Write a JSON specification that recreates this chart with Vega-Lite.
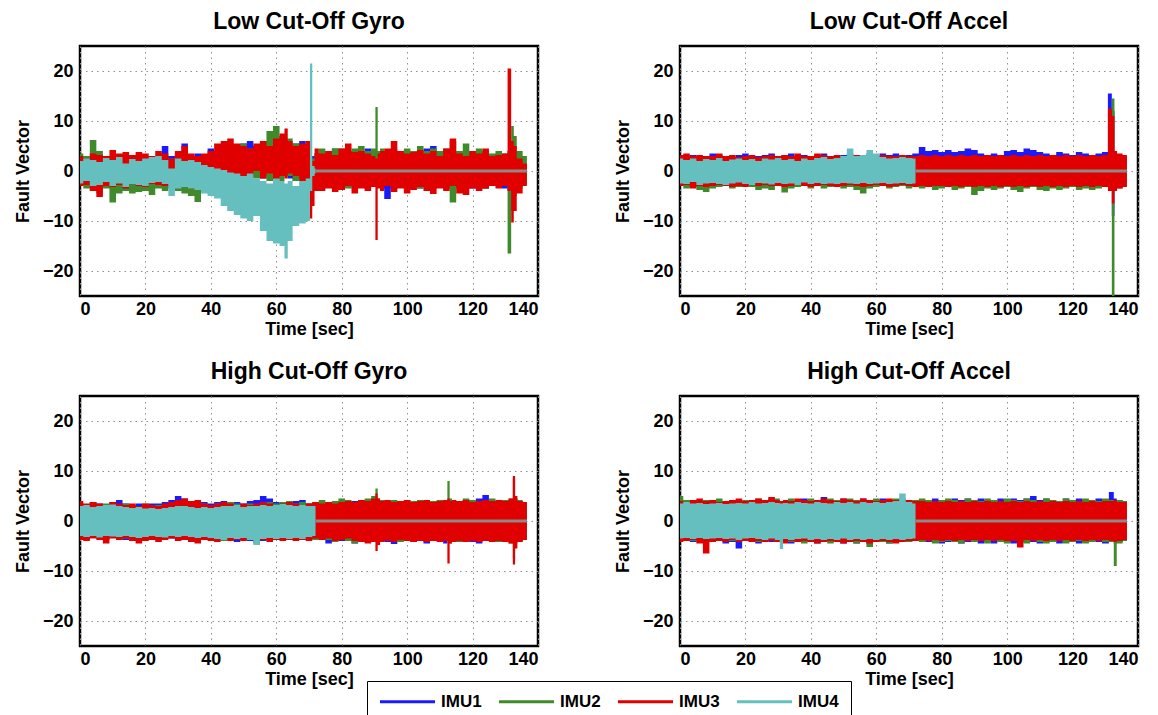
{
"$schema":"https://vega.github.io/schema/vega-lite/v6.json",
"background":"white",
"padding":{"left":13,"top":9,"right":5,"bottom":0},
"datasets":{
"g1":[
{"t":0,"a":2.5,"A":-2.8,"b":3.5,"B":-3.0,"c":3.0,"C":-3.0,"d":2.0,"D":-2.5},
{"t":2,"a":3.0,"A":-2.5,"b":3.0,"B":-3.5,"c":2.5,"C":-2.8,"d":2.5,"D":-2.0},
{"t":4,"a":2.8,"A":-3.0,"b":6.2,"B":-4.0,"c":3.5,"C":-4.0,"d":2.2,"D":-3.0},
{"t":6,"a":2.5,"A":-3.2,"b":4.0,"B":-4.5,"c":3.2,"C":-5.2,"d":1.8,"D":-2.8},
{"t":8,"a":3.0,"A":-3.0,"b":3.0,"B":-3.5,"c":3.0,"C":-3.0,"d":2.6,"D":-2.2},
{"t":10,"a":3.0,"A":-3.5,"b":3.0,"B":-6.3,"c":4.2,"C":-3.2,"d":2.2,"D":-3.0},
{"t":12,"a":2.5,"A":-3.0,"b":2.8,"B":-4.5,"c":3.5,"C":-2.8,"d":2.8,"D":-2.5},
{"t":14,"a":3.0,"A":-2.8,"b":3.0,"B":-4.0,"c":3.8,"C":-3.5,"d":1.5,"D":-3.2},
{"t":16,"a":2.8,"A":-3.2,"b":3.0,"B":-4.5,"c":3.2,"C":-2.5,"d":2.4,"D":-2.6},
{"t":18,"a":3.2,"A":-3.5,"b":2.5,"B":-4.2,"c":3.8,"C":-3.0,"d":2.0,"D":-2.8},
{"t":20,"a":3.0,"A":-3.0,"b":3.0,"B":-4.0,"c":3.5,"C":-3.2,"d":2.5,"D":-3.0},
{"t":22,"a":2.5,"A":-3.5,"b":2.5,"B":-4.8,"c":3.0,"C":-2.6,"d":2.8,"D":-2.4},
{"t":24,"a":3.0,"A":-3.0,"b":2.8,"B":-3.5,"c":4.0,"C":-2.8,"d":3.0,"D":-2.2},
{"t":26,"a":5.0,"A":-3.0,"b":3.0,"B":-4.0,"c":3.5,"C":-3.0,"d":2.2,"D":-2.6},
{"t":28,"a":3.0,"A":-3.5,"b":2.5,"B":-3.0,"c":2.5,"C":-2.0,"d":0.5,"D":-5.0},
{"t":30,"a":3.5,"A":-3.0,"b":3.0,"B":-4.0,"c":4.0,"C":-3.2,"d":2.5,"D":-3.5},
{"t":32,"a":5.5,"A":-3.5,"b":3.0,"B":-4.5,"c":5.0,"C":-2.5,"d":2.0,"D":-3.2},
{"t":34,"a":3.0,"A":-4.0,"b":2.5,"B":-5.0,"c":3.5,"C":-3.5,"d":2.2,"D":-3.5},
{"t":36,"a":3.5,"A":-3.0,"b":3.0,"B":-6.2,"c":3.0,"C":-2.8,"d":1.8,"D":-3.8},
{"t":38,"a":3.0,"A":-3.5,"b":3.0,"B":-4.0,"c":3.5,"C":-2.5,"d":1.2,"D":-4.5},
{"t":40,"a":4.5,"A":-4.0,"b":3.0,"B":-4.5,"c":4.0,"C":-3.0,"d":0.8,"D":-5.0},
{"t":42,"a":4.0,"A":-2.0,"b":3.5,"B":-4.0,"c":5.5,"C":-1.5,"d":0.5,"D":-5.5},
{"t":44,"a":4.5,"A":-1.5,"b":4.0,"B":-3.0,"c":6.0,"C":-1.0,"d":0.2,"D":-7.0},
{"t":46,"a":5.0,"A":-1.0,"b":4.0,"B":-2.0,"c":6.5,"C":-0.5,"d":-0.3,"D":-8.0},
{"t":48,"a":4.5,"A":-1.0,"b":5.0,"B":-1.5,"c":5.5,"C":-1.0,"d":-0.5,"D":-8.8},
{"t":50,"a":5.5,"A":-0.5,"b":5.5,"B":-1.0,"c":5.0,"C":-1.0,"d":-1.0,"D":-9.5},
{"t":52,"a":6.0,"A":-1.0,"b":4.5,"B":-1.0,"c":4.5,"C":-1.5,"d":-0.5,"D":-10.0},
{"t":54,"a":5.0,"A":-1.2,"b":4.0,"B":-1.5,"c":5.5,"C":0.0,"d":-1.5,"D":-9.0},
{"t":56,"a":5.0,"A":-1.5,"b":6.0,"B":-1.0,"c":6.0,"C":-1.5,"d":-2.0,"D":-12.0},
{"t":58,"a":5.5,"A":-1.0,"b":8.0,"B":-2.0,"c":5.0,"C":-0.5,"d":-2.5,"D":-14.0},
{"t":60,"a":5.0,"A":-1.5,"b":9.0,"B":-1.5,"c":6.5,"C":-2.0,"d":-1.5,"D":-14.5},
{"t":62,"a":6.0,"A":-1.0,"b":7.0,"B":-2.0,"c":7.5,"C":-1.0,"d":-2.0,"D":-15.0},
{"t":63,"a":6.0,"A":-1.0,"b":6.5,"B":-1.0,"c":8.5,"C":-1.5,"d":-2.5,"D":-17.5},
{"t":64,"a":5.0,"A":-1.5,"b":6.5,"B":-1.0,"c":6.0,"C":-0.5,"d":-2.0,"D":-14.0},
{"t":66,"a":5.5,"A":-2.0,"b":5.5,"B":-2.0,"c":5.0,"C":-1.0,"d":-3.0,"D":-11.0},
{"t":68,"a":6.0,"A":-1.5,"b":4.5,"B":-1.5,"c":5.5,"C":-2.0,"d":-2.0,"D":-10.5},
{"t":70,"a":5.0,"A":-2.0,"b":3.0,"B":-2.0,"c":6.0,"C":-2.5,"d":-1.5,"D":-10.0},
{"t":70.6,"a":3.0,"A":-3.0,"b":3.0,"B":-3.0,"c":3.0,"C":-9.5,"d":21.5,"D":-4.0},
{"t":71.4,"a":3.0,"A":-3.0,"b":2.5,"B":-2.0,"c":2.0,"C":-7.0,"d":1.0,"D":-1.0},
{"t":72,"a":3.5,"A":-3.0,"b":3.5,"B":-3.0,"c":4.5,"C":-4.0,"d":0.5,"D":-0.5},
{"t":74,"a":3.5,"A":-3.5,"b":4.5,"B":-3.0,"c":3.5,"C":-4.0},
{"t":76,"a":3.0,"A":-3.0,"b":4.0,"B":-2.5,"c":4.0,"C":-3.5},
{"t":78,"a":4.5,"A":-3.0,"b":4.5,"B":-3.5,"c":3.2,"C":-4.2},
{"t":80,"a":3.5,"A":-3.5,"b":4.5,"B":-2.5,"c":4.5,"C":-3.8},
{"t":82,"a":3.0,"A":-3.0,"b":4.0,"B":-3.5,"c":5.5,"C":-3.0},
{"t":84,"a":3.5,"A":-3.5,"b":4.5,"B":-3.0,"c":3.8,"C":-4.5},
{"t":86,"a":3.0,"A":-3.0,"b":5.0,"B":-3.0,"c":4.0,"C":-3.5},
{"t":88,"a":4.5,"A":-3.5,"b":4.0,"B":-3.0,"c":3.5,"C":-4.0},
{"t":90,"a":3.5,"A":-3.0,"b":4.5,"B":-2.5,"c":3.0,"C":-3.2},
{"t":90.6,"a":3.0,"A":-3.0,"b":12.8,"B":-2.5,"c":2.5,"C":-13.8},
{"t":91.4,"a":3.0,"A":-3.0,"b":4.0,"B":-3.0,"c":3.5,"C":-3.5},
{"t":92,"a":3.5,"A":-3.5,"b":4.5,"B":-3.0,"c":4.0,"C":-4.0},
{"t":94,"a":3.0,"A":-5.6,"b":4.0,"B":-3.0,"c":4.5,"C":-3.0},
{"t":96,"a":3.5,"A":-3.5,"b":4.5,"B":-3.5,"c":6.0,"C":-4.2},
{"t":98,"a":3.0,"A":-3.0,"b":4.0,"B":-3.0,"c":4.0,"C":-3.5},
{"t":100,"a":3.5,"A":-3.5,"b":4.5,"B":-3.5,"c":3.5,"C":-4.5},
{"t":102,"a":3.0,"A":-3.0,"b":4.0,"B":-3.0,"c":3.8,"C":-3.8},
{"t":104,"a":3.5,"A":-3.5,"b":5.0,"B":-3.5,"c":4.2,"C":-3.2},
{"t":106,"a":4.5,"A":-3.0,"b":4.0,"B":-3.0,"c":3.5,"C":-4.0},
{"t":108,"a":5.0,"A":-3.5,"b":4.5,"B":-3.5,"c":4.0,"C":-4.6},
{"t":110,"a":3.0,"A":-3.0,"b":4.0,"B":-3.0,"c":3.0,"C":-3.5},
{"t":112,"a":3.5,"A":-3.5,"b":4.5,"B":-3.5,"c":4.5,"C":-4.0},
{"t":114,"a":3.0,"A":-3.0,"b":6.0,"B":-6.3,"c":6.5,"C":-3.0},
{"t":116,"a":3.5,"A":-3.5,"b":4.0,"B":-3.0,"c":3.5,"C":-4.5},
{"t":118,"a":3.0,"A":-3.0,"b":5.5,"B":-3.5,"c":3.0,"C":-4.8},
{"t":120,"a":3.5,"A":-3.5,"b":4.0,"B":-3.0,"c":4.0,"C":-3.5},
{"t":122,"a":3.0,"A":-3.0,"b":4.5,"B":-3.0,"c":3.5,"C":-4.0},
{"t":124,"a":3.5,"A":-3.5,"b":4.0,"B":-3.5,"c":4.5,"C":-3.5},
{"t":126,"a":3.0,"A":-3.0,"b":3.5,"B":-3.0,"c":3.0,"C":-3.0},
{"t":128,"a":3.5,"A":-3.0,"b":4.0,"B":-3.0,"c":3.2,"C":-3.5},
{"t":130,"a":3.0,"A":-3.5,"b":3.5,"B":-3.0,"c":3.5,"C":-3.0},
{"t":131.4,"a":4.0,"A":-4.0,"b":4.0,"B":-16.5,"c":20.5,"C":-4.0},
{"t":132.2,"a":5.0,"A":-8.0,"b":9.0,"B":-4.0,"c":6.0,"C":-10.3},
{"t":133,"a":4.0,"A":-4.0,"b":7.0,"B":-5.0,"c":5.0,"C":-8.0},
{"t":134,"a":3.0,"A":-3.0,"b":4.0,"B":-3.5,"c":2.5,"C":-4.5},
{"t":136.6,"a":1.5,"A":-1.5,"b":3.0,"B":-2.5,"c":1.5,"C":-3.0}
],
"a1":[
{"t":0,"a":3.0,"A":-2.5,"b":2.5,"B":-3.0,"c":3.2,"C":-3.0,"d":2.5,"D":-2.5},
{"t":2,"a":3.0,"A":-2.5,"b":2.0,"B":-3.5,"c":3.5,"C":-2.8,"d":2.2,"D":-2.6},
{"t":4,"a":3.2,"A":-2.0,"b":2.5,"B":-3.2,"c":3.0,"C":-3.5,"d":2.5,"D":-2.2},
{"t":6,"a":3.0,"A":-2.5,"b":2.0,"B":-3.8,"c":3.2,"C":-3.0,"d":2.0,"D":-2.8},
{"t":8,"a":2.8,"A":-2.5,"b":2.5,"B":-4.2,"c":3.0,"C":-3.2,"d":2.4,"D":-2.5},
{"t":10,"a":3.5,"A":-2.5,"b":2.0,"B":-3.5,"c":3.0,"C":-3.0,"d":2.2,"D":-2.4},
{"t":12,"a":3.2,"A":-2.2,"b":2.5,"B":-3.2,"c":3.5,"C":-2.8,"d":2.6,"D":-2.6},
{"t":14,"a":3.0,"A":-2.5,"b":2.0,"B":-3.0,"c":3.0,"C":-3.0,"d":2.0,"D":-2.8},
{"t":16,"a":2.8,"A":-2.5,"b":2.5,"B":-3.5,"c":3.2,"C":-3.2,"d":2.3,"D":-2.5},
{"t":18,"a":3.2,"A":-2.5,"b":2.0,"B":-3.2,"c":2.8,"C":-3.0,"d":2.5,"D":-2.3},
{"t":20,"a":3.5,"A":-2.5,"b":2.5,"B":-3.0,"c":3.0,"C":-3.2,"d":2.2,"D":-2.6},
{"t":22,"a":3.0,"A":-2.5,"b":2.0,"B":-3.2,"c":3.2,"C":-2.8,"d":2.4,"D":-2.8},
{"t":24,"a":3.0,"A":-2.5,"b":2.0,"B":-3.8,"c":2.8,"C":-3.0,"d":2.0,"D":-2.4},
{"t":26,"a":3.2,"A":-2.0,"b":2.5,"B":-3.5,"c":3.0,"C":-2.8,"d":2.5,"D":-2.5},
{"t":28,"a":3.5,"A":-2.5,"b":2.5,"B":-3.8,"c":3.2,"C":-3.0,"d":2.3,"D":-2.7},
{"t":30,"a":3.0,"A":-2.5,"b":2.0,"B":-3.0,"c":3.0,"C":-3.0,"d":2.6,"D":-2.4},
{"t":32,"a":3.2,"A":-2.5,"b":2.5,"B":-4.3,"c":3.2,"C":-3.2,"d":2.2,"D":-2.6},
{"t":34,"a":3.5,"A":-2.2,"b":2.0,"B":-3.5,"c":3.0,"C":-3.0,"d":2.4,"D":-2.5},
{"t":36,"a":3.0,"A":-2.5,"b":2.5,"B":-3.2,"c":3.5,"C":-2.8,"d":2.0,"D":-2.8},
{"t":38,"a":3.2,"A":-2.5,"b":2.0,"B":-3.0,"c":3.0,"C":-3.0,"d":2.5,"D":-2.3},
{"t":40,"a":3.0,"A":-2.5,"b":2.5,"B":-3.5,"c":3.0,"C":-3.2,"d":2.2,"D":-2.6},
{"t":42,"a":3.2,"A":-2.0,"b":2.5,"B":-3.0,"c":3.5,"C":-3.0,"d":2.6,"D":-2.4},
{"t":44,"a":3.5,"A":-2.5,"b":2.0,"B":-3.5,"c":3.2,"C":-2.8,"d":2.8,"D":-2.6},
{"t":46,"a":3.0,"A":-2.5,"b":2.5,"B":-3.2,"c":3.0,"C":-3.0,"d":2.4,"D":-2.5},
{"t":48,"a":3.0,"A":-2.0,"b":2.5,"B":-3.0,"c":3.2,"C":-3.2,"d":2.6,"D":-2.6},
{"t":50,"a":3.2,"A":-2.5,"b":2.5,"B":-3.5,"c":3.0,"C":-3.0,"d":3.0,"D":-2.4},
{"t":52,"a":3.5,"A":-2.5,"b":2.5,"B":-3.2,"c":3.0,"C":-2.8,"d":4.5,"D":-2.5},
{"t":54,"a":3.0,"A":-2.5,"b":2.5,"B":-3.8,"c":3.2,"C":-3.0,"d":3.0,"D":-2.6},
{"t":56,"a":3.2,"A":-2.5,"b":2.5,"B":-4.5,"c":3.0,"C":-3.2,"d":3.2,"D":-2.4},
{"t":58,"a":3.5,"A":-2.0,"b":3.0,"B":-3.5,"c":3.2,"C":-3.0,"d":4.2,"D":-2.6},
{"t":60,"a":3.0,"A":-2.5,"b":2.5,"B":-3.2,"c":3.0,"C":-2.8,"d":3.5,"D":-2.5},
{"t":62,"a":3.5,"A":-2.5,"b":2.5,"B":-3.0,"c":3.2,"C":-3.0,"d":2.8,"D":-2.4},
{"t":64,"a":3.2,"A":-2.5,"b":2.5,"B":-3.5,"c":3.0,"C":-3.2,"d":2.5,"D":-2.6},
{"t":66,"a":3.5,"A":-2.2,"b":2.5,"B":-3.2,"c":3.0,"C":-3.0,"d":2.6,"D":-2.5},
{"t":68,"a":3.0,"A":-2.5,"b":2.5,"B":-3.0,"c":3.2,"C":-2.8,"d":2.8,"D":-2.4},
{"t":70,"a":3.2,"A":-2.5,"b":2.5,"B":-3.5,"c":3.0,"C":-3.0,"d":2.6,"D":-2.6},
{"t":72,"a":3.5,"A":-2.5,"b":2.5,"B":-3.0,"c":3.0,"C":-3.2,"d":2.5,"D":-2.5},
{"t":74,"a":4.8,"A":-2.5,"b":2.5,"B":-3.5,"c":3.2,"C":-3.0},
{"t":76,"a":4.0,"A":-2.5,"b":2.5,"B":-3.2,"c":3.0,"C":-3.2},
{"t":78,"a":4.2,"A":-2.5,"b":2.5,"B":-3.8,"c":3.2,"C":-3.0},
{"t":80,"a":3.8,"A":-2.5,"b":2.5,"B":-3.5,"c":3.0,"C":-3.0},
{"t":82,"a":4.2,"A":-2.5,"b":2.5,"B":-3.2,"c":3.2,"C":-3.2},
{"t":84,"a":3.8,"A":-2.5,"b":2.5,"B":-3.8,"c":3.0,"C":-3.0},
{"t":86,"a":4.0,"A":-2.5,"b":2.5,"B":-3.5,"c":3.2,"C":-3.2},
{"t":88,"a":4.5,"A":-2.5,"b":2.5,"B":-3.2,"c":3.0,"C":-3.0},
{"t":90,"a":4.2,"A":-2.5,"b":2.5,"B":-4.8,"c":3.2,"C":-3.2},
{"t":92,"a":3.5,"A":-2.5,"b":2.5,"B":-4.0,"c":3.0,"C":-3.0},
{"t":94,"a":3.2,"A":-2.5,"b":2.5,"B":-3.5,"c":3.2,"C":-3.2},
{"t":96,"a":3.5,"A":-2.5,"b":2.5,"B":-3.8,"c":3.0,"C":-3.0},
{"t":98,"a":3.2,"A":-2.5,"b":2.5,"B":-3.5,"c":3.2,"C":-3.2},
{"t":100,"a":4.0,"A":-2.5,"b":2.5,"B":-3.2,"c":3.0,"C":-3.0},
{"t":102,"a":4.2,"A":-2.5,"b":2.5,"B":-3.8,"c":3.2,"C":-3.2},
{"t":104,"a":3.8,"A":-2.5,"b":2.5,"B":-4.2,"c":3.0,"C":-3.0},
{"t":106,"a":4.5,"A":-2.5,"b":2.5,"B":-3.5,"c":3.2,"C":-3.2},
{"t":108,"a":4.2,"A":-2.5,"b":2.5,"B":-3.2,"c":3.0,"C":-3.0},
{"t":110,"a":3.8,"A":-2.5,"b":2.5,"B":-3.8,"c":3.2,"C":-3.2},
{"t":112,"a":3.5,"A":-2.5,"b":2.5,"B":-4.0,"c":3.0,"C":-3.0},
{"t":114,"a":3.2,"A":-2.5,"b":2.5,"B":-3.5,"c":3.2,"C":-3.2},
{"t":116,"a":3.8,"A":-2.5,"b":2.5,"B":-3.8,"c":3.0,"C":-3.0},
{"t":118,"a":3.5,"A":-2.5,"b":2.5,"B":-3.5,"c":3.2,"C":-3.2},
{"t":120,"a":3.2,"A":-2.5,"b":2.5,"B":-3.2,"c":3.0,"C":-3.0},
{"t":122,"a":3.8,"A":-2.5,"b":2.5,"B":-3.8,"c":3.2,"C":-3.2},
{"t":124,"a":3.5,"A":-2.5,"b":2.5,"B":-3.5,"c":3.0,"C":-3.0},
{"t":126,"a":3.2,"A":-2.5,"b":2.5,"B":-3.8,"c":3.2,"C":-3.2},
{"t":128,"a":3.5,"A":-2.5,"b":2.5,"B":-3.5,"c":3.0,"C":-3.0},
{"t":130,"a":3.8,"A":-2.5,"b":2.5,"B":-3.2,"c":3.2,"C":-3.2},
{"t":131.6,"a":15.5,"A":-2.0,"b":3.0,"B":-3.0,"c":12.5,"C":-4.0},
{"t":132.4,"a":12.0,"A":-9.0,"b":14.5,"B":-26.0,"c":11.0,"C":-6.5},
{"t":133.2,"a":3.0,"A":-3.0,"b":3.0,"B":-4.0,"c":4.0,"C":-4.0},
{"t":134,"a":3.0,"A":-2.5,"b":2.5,"B":-3.5,"c":3.5,"C":-3.5},
{"t":136.6,"a":3.0,"A":-2.5,"b":2.5,"B":-3.0,"c":3.2,"C":-3.2}
],
"g2":[
{"t":0,"a":3.5,"A":-3.5,"b":3.5,"B":-3.2,"c":4.0,"C":-3.8,"d":3.0,"D":-3.0},
{"t":2,"a":3.2,"A":-3.8,"b":3.0,"B":-3.5,"c":3.5,"C":-4.0,"d":3.2,"D":-3.2},
{"t":4,"a":3.8,"A":-3.2,"b":3.8,"B":-3.0,"c":3.8,"C":-3.5,"d":2.8,"D":-3.0},
{"t":6,"a":3.5,"A":-3.5,"b":3.2,"B":-3.5,"c":3.5,"C":-3.8,"d":3.0,"D":-3.3},
{"t":8,"a":3.0,"A":-3.5,"b":3.5,"B":-3.8,"c":3.2,"C":-4.5,"d":3.2,"D":-3.0},
{"t":10,"a":3.8,"A":-3.2,"b":3.5,"B":-3.2,"c":3.8,"C":-3.5,"d":3.3,"D":-3.1},
{"t":12,"a":4.2,"A":-3.5,"b":3.0,"B":-3.8,"c":3.5,"C":-3.8,"d":3.0,"D":-3.2},
{"t":14,"a":3.5,"A":-3.8,"b":3.5,"B":-3.5,"c":3.2,"C":-3.5,"d":2.8,"D":-3.0},
{"t":16,"a":3.2,"A":-3.5,"b":3.2,"B":-3.2,"c":3.5,"C":-4.0,"d":2.6,"D":-3.2},
{"t":18,"a":3.5,"A":-3.8,"b":3.0,"B":-4.0,"c":3.0,"C":-4.5,"d":2.8,"D":-3.4},
{"t":20,"a":3.0,"A":-3.5,"b":3.5,"B":-3.5,"c":3.5,"C":-4.0,"d":2.5,"D":-3.2},
{"t":22,"a":3.5,"A":-3.8,"b":3.0,"B":-3.5,"c":3.2,"C":-3.8,"d":2.6,"D":-3.0},
{"t":24,"a":3.5,"A":-3.5,"b":3.2,"B":-3.8,"c":3.0,"C":-4.2,"d":2.4,"D":-3.2},
{"t":26,"a":3.8,"A":-3.2,"b":3.0,"B":-3.5,"c":3.5,"C":-3.8,"d":2.6,"D":-3.3},
{"t":28,"a":4.2,"A":-3.5,"b":3.5,"B":-3.2,"c":3.8,"C":-3.5,"d":2.8,"D":-3.0},
{"t":30,"a":5.0,"A":-3.5,"b":4.0,"B":-3.5,"c":4.2,"C":-4.0,"d":3.0,"D":-3.2},
{"t":32,"a":4.5,"A":-3.8,"b":3.5,"B":-3.8,"c":4.5,"C":-3.8,"d":3.0,"D":-3.0},
{"t":34,"a":4.0,"A":-3.5,"b":3.8,"B":-3.5,"c":4.0,"C":-4.2,"d":2.8,"D":-3.2},
{"t":36,"a":3.5,"A":-3.5,"b":3.2,"B":-3.8,"c":4.2,"C":-4.5,"d":2.6,"D":-3.4},
{"t":38,"a":3.8,"A":-3.2,"b":3.5,"B":-3.5,"c":3.5,"C":-3.8,"d":2.8,"D":-3.2},
{"t":40,"a":3.5,"A":-3.8,"b":3.2,"B":-3.5,"c":3.2,"C":-4.0,"d":2.6,"D":-3.4},
{"t":42,"a":3.8,"A":-3.5,"b":3.5,"B":-3.8,"c":3.5,"C":-4.2,"d":2.8,"D":-3.6},
{"t":44,"a":4.0,"A":-3.5,"b":3.2,"B":-4.0,"c":3.8,"C":-3.8,"d":3.0,"D":-3.8},
{"t":46,"a":3.5,"A":-3.8,"b":3.8,"B":-3.5,"c":3.5,"C":-4.0,"d":3.0,"D":-3.4},
{"t":48,"a":3.8,"A":-4.2,"b":3.5,"B":-3.8,"c":3.2,"C":-3.8,"d":3.2,"D":-3.6},
{"t":50,"a":3.5,"A":-3.8,"b":3.2,"B":-3.5,"c":3.5,"C":-4.0,"d":2.8,"D":-3.4},
{"t":52,"a":4.0,"A":-4.0,"b":3.5,"B":-3.8,"c":3.2,"C":-3.8,"d":3.0,"D":-3.8},
{"t":54,"a":4.2,"A":-4.5,"b":3.2,"B":-4.2,"c":3.5,"C":-4.0,"d":3.0,"D":-4.8},
{"t":56,"a":5.0,"A":-4.0,"b":3.5,"B":-3.8,"c":3.8,"C":-3.8,"d":3.2,"D":-3.6},
{"t":58,"a":4.5,"A":-3.8,"b":3.8,"B":-3.5,"c":3.5,"C":-4.2,"d":3.0,"D":-3.4},
{"t":60,"a":3.8,"A":-3.5,"b":3.5,"B":-3.8,"c":3.2,"C":-3.8,"d":3.2,"D":-3.6},
{"t":62,"a":3.5,"A":-3.8,"b":3.8,"B":-3.5,"c":3.5,"C":-4.0,"d":3.4,"D":-3.4},
{"t":64,"a":3.8,"A":-3.5,"b":4.0,"B":-3.8,"c":3.8,"C":-3.8,"d":3.2,"D":-3.6},
{"t":66,"a":4.0,"A":-3.8,"b":3.5,"B":-3.5,"c":3.5,"C":-4.0,"d":3.0,"D":-3.4},
{"t":68,"a":4.2,"A":-3.5,"b":3.8,"B":-3.8,"c":3.2,"C":-3.8,"d":3.2,"D":-3.6},
{"t":70,"a":3.5,"A":-3.8,"b":3.5,"B":-3.5,"c":3.5,"C":-4.0,"d":3.0,"D":-3.2},
{"t":72,"a":3.5,"A":-3.5,"b":3.8,"B":-3.8,"c":3.8,"C":-3.5,"d":3.0,"D":-3.0},
{"t":74,"a":3.8,"A":-3.8,"b":4.2,"B":-3.5,"c":3.5,"C":-3.8},
{"t":76,"a":3.5,"A":-4.5,"b":3.8,"B":-3.8,"c":3.8,"C":-3.5},
{"t":78,"a":4.0,"A":-3.8,"b":4.0,"B":-4.2,"c":3.5,"C":-4.0},
{"t":80,"a":3.8,"A":-4.0,"b":4.5,"B":-3.8,"c":3.8,"C":-3.8},
{"t":82,"a":3.5,"A":-3.8,"b":4.2,"B":-4.0,"c":4.0,"C":-3.5},
{"t":84,"a":4.0,"A":-4.5,"b":3.8,"B":-4.5,"c":3.8,"C":-4.0},
{"t":86,"a":3.8,"A":-3.8,"b":4.2,"B":-3.8,"c":4.2,"C":-4.2},
{"t":88,"a":4.2,"A":-4.0,"b":4.5,"B":-4.0,"c":4.0,"C":-4.5},
{"t":90,"a":4.0,"A":-3.8,"b":5.0,"B":-4.2,"c":4.5,"C":-4.2},
{"t":90.6,"a":4.0,"A":-4.0,"b":6.5,"B":-4.0,"c":5.5,"C":-6.0},
{"t":91.4,"a":3.8,"A":-4.5,"b":4.5,"B":-4.5,"c":4.5,"C":-4.8},
{"t":92,"a":4.0,"A":-4.0,"b":4.2,"B":-4.0,"c":4.0,"C":-4.2},
{"t":94,"a":3.8,"A":-4.2,"b":4.0,"B":-3.8,"c":4.2,"C":-4.0},
{"t":96,"a":3.5,"A":-4.6,"b":4.2,"B":-4.0,"c":3.8,"C":-4.2},
{"t":98,"a":3.8,"A":-4.0,"b":4.0,"B":-4.2,"c":4.0,"C":-3.8},
{"t":100,"a":4.2,"A":-3.8,"b":3.8,"B":-3.8,"c":4.2,"C":-4.0},
{"t":102,"a":3.8,"A":-4.2,"b":4.0,"B":-4.0,"c":3.8,"C":-4.2},
{"t":104,"a":4.0,"A":-4.0,"b":4.2,"B":-3.8,"c":4.0,"C":-4.0},
{"t":106,"a":4.2,"A":-4.5,"b":3.8,"B":-4.0,"c":4.2,"C":-4.2},
{"t":108,"a":3.8,"A":-4.0,"b":4.0,"B":-3.8,"c":3.8,"C":-4.0},
{"t":110,"a":4.0,"A":-3.8,"b":4.2,"B":-4.0,"c":4.0,"C":-4.2},
{"t":112,"a":3.8,"A":-4.5,"b":4.0,"B":-3.8,"c":4.2,"C":-4.0},
{"t":112.6,"a":4.0,"A":-4.0,"b":8.0,"B":-4.0,"c":4.5,"C":-8.5},
{"t":113.4,"a":4.2,"A":-4.2,"b":4.5,"B":-4.5,"c":4.0,"C":-4.5},
{"t":114,"a":4.0,"A":-3.8,"b":4.2,"B":-4.0,"c":4.2,"C":-4.2},
{"t":116,"a":3.8,"A":-4.2,"b":4.0,"B":-4.2,"c":4.0,"C":-4.0},
{"t":118,"a":4.2,"A":-4.0,"b":4.5,"B":-3.8,"c":4.2,"C":-4.2},
{"t":120,"a":4.0,"A":-4.2,"b":4.2,"B":-4.0,"c":3.8,"C":-4.0},
{"t":122,"a":4.5,"A":-4.5,"b":4.0,"B":-4.2,"c":4.0,"C":-4.2},
{"t":124,"a":5.2,"A":-4.0,"b":4.2,"B":-3.8,"c":4.2,"C":-4.0},
{"t":126,"a":4.0,"A":-4.2,"b":4.5,"B":-4.0,"c":4.0,"C":-4.2},
{"t":128,"a":3.8,"A":-4.0,"b":4.0,"B":-4.2,"c":4.2,"C":-4.0},
{"t":130,"a":4.2,"A":-3.8,"b":4.2,"B":-4.0,"c":4.0,"C":-4.2},
{"t":132,"a":4.0,"A":-4.2,"b":4.5,"B":-4.5,"c":4.5,"C":-4.5},
{"t":132.6,"a":4.0,"A":-4.5,"b":8.5,"B":-7.5,"c":9.0,"C":-8.7},
{"t":133.4,"a":4.5,"A":-4.2,"b":4.5,"B":-4.5,"c":5.0,"C":-5.5},
{"t":134,"a":4.0,"A":-4.0,"b":4.2,"B":-4.2,"c":4.0,"C":-4.2},
{"t":136.6,"a":3.5,"A":-3.5,"b":3.8,"B":-3.8,"c":3.8,"C":-3.8}
],
"a2":[
{"t":0,"a":4.0,"A":-3.8,"b":5.0,"B":-3.5,"c":4.0,"C":-4.2,"d":3.5,"D":-3.5},
{"t":2,"a":3.8,"A":-4.0,"b":4.2,"B":-3.8,"c":3.8,"C":-4.0,"d":3.8,"D":-3.4},
{"t":4,"a":4.2,"A":-4.2,"b":4.0,"B":-4.0,"c":4.2,"C":-3.8,"d":3.5,"D":-3.6},
{"t":6,"a":4.0,"A":-3.8,"b":3.8,"B":-4.2,"c":4.5,"C":-4.5,"d":3.6,"D":-3.4},
{"t":8,"a":3.8,"A":-4.0,"b":4.2,"B":-4.0,"c":4.0,"C":-6.5,"d":3.4,"D":-3.6},
{"t":10,"a":4.2,"A":-4.2,"b":4.0,"B":-3.8,"c":4.2,"C":-4.2,"d":3.5,"D":-3.5},
{"t":12,"a":4.0,"A":-4.0,"b":4.5,"B":-4.0,"c":3.8,"C":-4.0,"d":3.6,"D":-3.4},
{"t":14,"a":3.8,"A":-4.5,"b":4.0,"B":-4.2,"c":4.0,"C":-4.2,"d":3.4,"D":-3.6},
{"t":16,"a":4.2,"A":-4.2,"b":4.2,"B":-4.0,"c":4.2,"C":-3.8,"d":3.5,"D":-3.5},
{"t":18,"a":4.0,"A":-5.5,"b":4.0,"B":-4.2,"c":4.5,"C":-4.2,"d":3.6,"D":-3.8},
{"t":20,"a":3.8,"A":-4.0,"b":4.2,"B":-3.8,"c":4.0,"C":-4.0,"d":3.5,"D":-3.5},
{"t":22,"a":4.2,"A":-4.2,"b":4.0,"B":-4.0,"c":4.2,"C":-4.2,"d":3.8,"D":-3.4},
{"t":24,"a":4.0,"A":-4.5,"b":4.5,"B":-4.2,"c":4.5,"C":-4.0,"d":3.5,"D":-3.6},
{"t":26,"a":4.2,"A":-4.0,"b":4.2,"B":-4.0,"c":4.2,"C":-4.2,"d":3.6,"D":-3.8},
{"t":28,"a":4.5,"A":-4.2,"b":4.0,"B":-3.8,"c":4.8,"C":-4.0,"d":3.8,"D":-3.5},
{"t":30,"a":4.0,"A":-4.0,"b":4.5,"B":-4.2,"c":4.2,"C":-4.2,"d":3.6,"D":-3.8},
{"t":31,"a":4.0,"A":-4.0,"b":4.0,"B":-4.0,"c":4.0,"C":-4.0,"d":3.5,"D":-5.6},
{"t":32,"a":4.2,"A":-4.2,"b":4.2,"B":-4.0,"c":4.2,"C":-4.5,"d":3.6,"D":-3.6},
{"t":34,"a":4.0,"A":-4.5,"b":4.5,"B":-4.2,"c":4.0,"C":-4.0,"d":3.5,"D":-3.8},
{"t":36,"a":4.2,"A":-4.0,"b":4.0,"B":-4.0,"c":4.5,"C":-4.2,"d":3.8,"D":-3.6},
{"t":38,"a":4.5,"A":-4.2,"b":4.2,"B":-4.5,"c":4.2,"C":-4.0,"d":3.6,"D":-3.5},
{"t":40,"a":4.2,"A":-4.0,"b":4.5,"B":-4.0,"c":4.0,"C":-4.2,"d":3.5,"D":-3.8},
{"t":42,"a":4.0,"A":-4.5,"b":4.2,"B":-4.2,"c":4.2,"C":-4.5,"d":3.8,"D":-3.6},
{"t":44,"a":4.8,"A":-4.2,"b":4.0,"B":-4.0,"c":4.5,"C":-4.2,"d":3.6,"D":-3.8},
{"t":46,"a":4.2,"A":-4.0,"b":4.5,"B":-4.5,"c":4.2,"C":-4.0,"d":3.5,"D":-3.6},
{"t":48,"a":4.0,"A":-4.2,"b":4.2,"B":-4.2,"c":4.0,"C":-4.2,"d":3.8,"D":-3.8},
{"t":50,"a":4.5,"A":-4.5,"b":4.0,"B":-4.0,"c":4.5,"C":-4.5,"d":3.6,"D":-3.5},
{"t":52,"a":4.2,"A":-4.0,"b":4.5,"B":-4.2,"c":4.2,"C":-4.2,"d":3.8,"D":-3.8},
{"t":54,"a":4.0,"A":-4.5,"b":4.2,"B":-4.5,"c":4.0,"C":-4.0,"d":3.5,"D":-3.6},
{"t":56,"a":4.5,"A":-4.2,"b":4.0,"B":-4.2,"c":4.5,"C":-4.2,"d":3.8,"D":-3.8},
{"t":58,"a":4.2,"A":-4.5,"b":4.2,"B":-5.2,"c":4.2,"C":-4.5,"d":3.6,"D":-3.6},
{"t":60,"a":4.0,"A":-4.2,"b":4.5,"B":-4.0,"c":4.0,"C":-4.2,"d":3.8,"D":-3.8},
{"t":62,"a":4.5,"A":-4.0,"b":4.2,"B":-4.2,"c":4.2,"C":-4.0,"d":3.6,"D":-3.6},
{"t":64,"a":4.2,"A":-4.5,"b":4.0,"B":-4.5,"c":4.5,"C":-4.2,"d":3.8,"D":-3.8},
{"t":66,"a":4.0,"A":-4.2,"b":4.5,"B":-4.2,"c":4.2,"C":-4.5,"d":4.0,"D":-3.6},
{"t":68,"a":4.5,"A":-4.0,"b":4.2,"B":-4.0,"c":4.0,"C":-4.2,"d":5.5,"D":-3.8},
{"t":70,"a":4.2,"A":-4.2,"b":4.0,"B":-4.2,"c":4.2,"C":-4.0,"d":3.8,"D":-3.6},
{"t":72,"a":4.0,"A":-4.0,"b":4.2,"B":-4.0,"c":4.0,"C":-4.0,"d":3.5,"D":-3.5},
{"t":74,"a":4.2,"A":-4.0,"b":4.5,"B":-4.2,"c":4.0,"C":-3.8},
{"t":76,"a":4.0,"A":-4.2,"b":4.2,"B":-4.0,"c":3.8,"C":-4.0},
{"t":78,"a":4.5,"A":-4.0,"b":4.0,"B":-4.5,"c":4.0,"C":-3.8},
{"t":80,"a":4.2,"A":-4.5,"b":4.2,"B":-4.2,"c":3.8,"C":-4.0},
{"t":82,"a":4.0,"A":-4.2,"b":4.5,"B":-4.0,"c":4.0,"C":-3.8},
{"t":84,"a":4.5,"A":-4.0,"b":4.2,"B":-4.2,"c":3.8,"C":-4.0},
{"t":86,"a":4.2,"A":-4.5,"b":4.0,"B":-4.5,"c":4.0,"C":-3.8},
{"t":88,"a":4.5,"A":-4.2,"b":4.5,"B":-4.0,"c":3.8,"C":-4.0},
{"t":90,"a":4.2,"A":-4.0,"b":4.2,"B":-4.2,"c":4.0,"C":-3.8},
{"t":92,"a":4.5,"A":-4.5,"b":4.0,"B":-4.0,"c":3.8,"C":-4.0},
{"t":94,"a":4.2,"A":-4.2,"b":4.5,"B":-4.5,"c":4.0,"C":-3.8},
{"t":96,"a":4.0,"A":-4.5,"b":4.2,"B":-4.0,"c":3.8,"C":-4.0},
{"t":98,"a":4.5,"A":-4.0,"b":4.0,"B":-4.2,"c":4.0,"C":-3.8},
{"t":100,"a":4.2,"A":-4.2,"b":4.5,"B":-4.5,"c":3.8,"C":-4.0},
{"t":102,"a":4.5,"A":-4.5,"b":4.2,"B":-4.0,"c":4.0,"C":-4.0},
{"t":104,"a":4.2,"A":-4.2,"b":4.0,"B":-4.2,"c":3.8,"C":-5.3},
{"t":106,"a":4.5,"A":-4.0,"b":4.5,"B":-4.5,"c":4.0,"C":-3.8},
{"t":108,"a":5.0,"A":-4.2,"b":4.2,"B":-4.0,"c":3.8,"C":-4.0},
{"t":110,"a":4.2,"A":-4.5,"b":4.0,"B":-4.2,"c":4.0,"C":-3.8},
{"t":112,"a":4.5,"A":-4.2,"b":4.5,"B":-4.5,"c":3.8,"C":-4.0},
{"t":114,"a":4.2,"A":-4.0,"b":4.2,"B":-4.2,"c":4.0,"C":-3.8},
{"t":116,"a":4.0,"A":-4.5,"b":4.0,"B":-4.0,"c":3.8,"C":-4.0},
{"t":118,"a":4.5,"A":-4.2,"b":4.5,"B":-4.5,"c":4.0,"C":-3.8},
{"t":120,"a":4.2,"A":-4.0,"b":4.2,"B":-4.2,"c":3.8,"C":-4.0},
{"t":122,"a":4.5,"A":-4.5,"b":4.0,"B":-4.0,"c":4.0,"C":-3.8},
{"t":124,"a":4.2,"A":-4.2,"b":4.5,"B":-4.5,"c":3.8,"C":-4.0},
{"t":126,"a":4.0,"A":-4.0,"b":4.2,"B":-4.2,"c":4.0,"C":-3.8},
{"t":128,"a":4.5,"A":-4.2,"b":4.0,"B":-4.0,"c":3.8,"C":-4.0},
{"t":130,"a":4.2,"A":-4.5,"b":4.5,"B":-4.2,"c":4.0,"C":-3.8},
{"t":132.2,"a":5.8,"A":-4.0,"b":4.2,"B":-4.2,"c":4.0,"C":-4.0},
{"t":133,"a":4.5,"A":-4.5,"b":4.0,"B":-9.0,"c":4.2,"C":-4.2},
{"t":134,"a":4.2,"A":-4.2,"b":4.2,"B":-4.5,"c":3.8,"C":-4.0},
{"t":136.6,"a":4.0,"A":-4.0,"b":4.0,"B":-4.0,"c":3.8,"C":-3.8}
],
"zl":[{"s":72,"e":136.6}]
},
"columns":2,
"spacing":{"row":19,"column":73},
"resolve":{"scale":{"color":"shared"}},
"concat":[
{"title":"Low Cut-Off Gyro","width":458,"height":250,"data":{"name":"g1"},
"encoding":{"x":{"field":"t","type":"quantitative","scale":{"domain":[0,140],"nice":false},"axis":{"values":[0,20,40,60,80,100,120,140]},"title":"Time [sec]"}},
"layer":[
{"mark":{"type":"area","interpolate":"step","clip":true,"opacity":1},"encoding":{"y":{"field":"a","type":"quantitative","scale":{"domain":[-25,25],"nice":false},"axis":{"values":[-20,-10,0,10,20]},"title":"Fault Vector"},"y2":{"field":"A"},"color":{"datum":"IMU1","type":"nominal","scale":{"domain":["IMU1","IMU2","IMU3","IMU4"],"range":["#1a1aff","#3f8a2a","#e00000","#66bfbf"]},"legend":{"orient":"none","legendX":287,"legendY":635,"direction":"horizontal","title":null,"symbolType":"M-5.5,0H5.5","symbolSize":100,"symbolStrokeWidth":3,"symbolOffset":20,"labelFontSize":17,"labelFontWeight":"bold","labelColor":"#000","labelOffset":25,"columnPadding":11,"strokeColor":"#000","fillColor":"#fff","padding":12,"encoding":{"symbols":{"stroke":{"value":{"expr":"scale('color', datum.value)"}},"strokeWidth":{"value":3},"opacity":{"value":1}}}}}}},
{"mark":{"type":"area","interpolate":"step","clip":true,"opacity":1},"encoding":{"y":{"field":"b","type":"quantitative","title":"Fault Vector"},"y2":{"field":"B"},"color":{"datum":"IMU2","type":"nominal"}}},
{"mark":{"type":"area","interpolate":"step","clip":true,"opacity":1},"encoding":{"y":{"field":"c","type":"quantitative","title":"Fault Vector"},"y2":{"field":"C"},"color":{"datum":"IMU3","type":"nominal"}}},
{"mark":{"type":"area","interpolate":"step","clip":true,"opacity":1},"encoding":{"y":{"field":"d","type":"quantitative","title":"Fault Vector"},"y2":{"field":"D"},"color":{"datum":"IMU4","type":"nominal"}}},
{"data":{"name":"zl"},"mark":{"type":"rule","color":"#8a8a8a","strokeWidth":3},"encoding":{"x":{"field":"s","type":"quantitative","title":"Time [sec]"},"x2":{"field":"e"},"y":{"datum":0,"type":"quantitative"}}}
]},
{"title":"Low Cut-Off Accel","width":458,"height":250,"data":{"name":"a1"},
"encoding":{"x":{"field":"t","type":"quantitative","scale":{"domain":[0,140],"nice":false},"axis":{"values":[0,20,40,60,80,100,120,140]},"title":"Time [sec]"}},
"layer":[
{"mark":{"type":"area","interpolate":"step","clip":true,"opacity":1},"encoding":{"y":{"field":"a","type":"quantitative","scale":{"domain":[-25,25],"nice":false},"axis":{"values":[-20,-10,0,10,20]},"title":"Fault Vector"},"y2":{"field":"A"},"color":{"datum":"IMU1","type":"nominal"}}},
{"mark":{"type":"area","interpolate":"step","clip":true,"opacity":1},"encoding":{"y":{"field":"b","type":"quantitative","title":"Fault Vector"},"y2":{"field":"B"},"color":{"datum":"IMU2","type":"nominal"}}},
{"mark":{"type":"area","interpolate":"step","clip":true,"opacity":1},"encoding":{"y":{"field":"c","type":"quantitative","title":"Fault Vector"},"y2":{"field":"C"},"color":{"datum":"IMU3","type":"nominal"}}},
{"mark":{"type":"area","interpolate":"step","clip":true,"opacity":1},"encoding":{"y":{"field":"d","type":"quantitative","title":"Fault Vector"},"y2":{"field":"D"},"color":{"datum":"IMU4","type":"nominal"}}},
{"data":{"name":"zl"},"mark":{"type":"rule","color":"#8a8a8a","strokeWidth":3},"encoding":{"x":{"field":"s","type":"quantitative","title":"Time [sec]"},"x2":{"field":"e"},"y":{"datum":0,"type":"quantitative"}}}
]},
{"title":"High Cut-Off Gyro","width":458,"height":250,"data":{"name":"g2"},
"encoding":{"x":{"field":"t","type":"quantitative","scale":{"domain":[0,140],"nice":false},"axis":{"values":[0,20,40,60,80,100,120,140]},"title":"Time [sec]"}},
"layer":[
{"mark":{"type":"area","interpolate":"step","clip":true,"opacity":1},"encoding":{"y":{"field":"a","type":"quantitative","scale":{"domain":[-25,25],"nice":false},"axis":{"values":[-20,-10,0,10,20]},"title":"Fault Vector"},"y2":{"field":"A"},"color":{"datum":"IMU1","type":"nominal"}}},
{"mark":{"type":"area","interpolate":"step","clip":true,"opacity":1},"encoding":{"y":{"field":"b","type":"quantitative","title":"Fault Vector"},"y2":{"field":"B"},"color":{"datum":"IMU2","type":"nominal"}}},
{"mark":{"type":"area","interpolate":"step","clip":true,"opacity":1},"encoding":{"y":{"field":"c","type":"quantitative","title":"Fault Vector"},"y2":{"field":"C"},"color":{"datum":"IMU3","type":"nominal"}}},
{"mark":{"type":"area","interpolate":"step","clip":true,"opacity":1},"encoding":{"y":{"field":"d","type":"quantitative","title":"Fault Vector"},"y2":{"field":"D"},"color":{"datum":"IMU4","type":"nominal"}}},
{"data":{"name":"zl"},"mark":{"type":"rule","color":"#8a8a8a","strokeWidth":3},"encoding":{"x":{"field":"s","type":"quantitative","title":"Time [sec]"},"x2":{"field":"e"},"y":{"datum":0,"type":"quantitative"}}}
]},
{"title":"High Cut-Off Accel","width":458,"height":250,"data":{"name":"a2"},
"encoding":{"x":{"field":"t","type":"quantitative","scale":{"domain":[0,140],"nice":false},"axis":{"values":[0,20,40,60,80,100,120,140]},"title":"Time [sec]"}},
"layer":[
{"mark":{"type":"area","interpolate":"step","clip":true,"opacity":1},"encoding":{"y":{"field":"a","type":"quantitative","scale":{"domain":[-25,25],"nice":false},"axis":{"values":[-20,-10,0,10,20]},"title":"Fault Vector"},"y2":{"field":"A"},"color":{"datum":"IMU1","type":"nominal"}}},
{"mark":{"type":"area","interpolate":"step","clip":true,"opacity":1},"encoding":{"y":{"field":"b","type":"quantitative","title":"Fault Vector"},"y2":{"field":"B"},"color":{"datum":"IMU2","type":"nominal"}}},
{"mark":{"type":"area","interpolate":"step","clip":true,"opacity":1},"encoding":{"y":{"field":"c","type":"quantitative","title":"Fault Vector"},"y2":{"field":"C"},"color":{"datum":"IMU3","type":"nominal"}}},
{"mark":{"type":"area","interpolate":"step","clip":true,"opacity":1},"encoding":{"y":{"field":"d","type":"quantitative","title":"Fault Vector"},"y2":{"field":"D"},"color":{"datum":"IMU4","type":"nominal"}}},
{"data":{"name":"zl"},"mark":{"type":"rule","color":"#8a8a8a","strokeWidth":3},"encoding":{"x":{"field":"s","type":"quantitative","title":"Time [sec]"},"x2":{"field":"e"},"y":{"datum":0,"type":"quantitative"}}}
]}
],
"config":{
"font":"Liberation Sans",
"view":{"stroke":"#000","strokeWidth":2.5},
"axis":{"labelFontSize":18,"labelFontWeight":"bold","labelColor":"#000","titleFontSize":18,"titleFontWeight":"bold","titleColor":"#000","grid":true,"gridColor":"#8f8f8f","gridDash":[1.5,4],"gridWidth":1,"domain":false,"ticks":false},
"axisX":{"labelPadding":4,"titlePadding":2},
"axisY":{"labelPadding":7,"titlePadding":10},
"title":{"fontSize":23,"fontWeight":"bold","color":"#000","offset":12}
}
}
